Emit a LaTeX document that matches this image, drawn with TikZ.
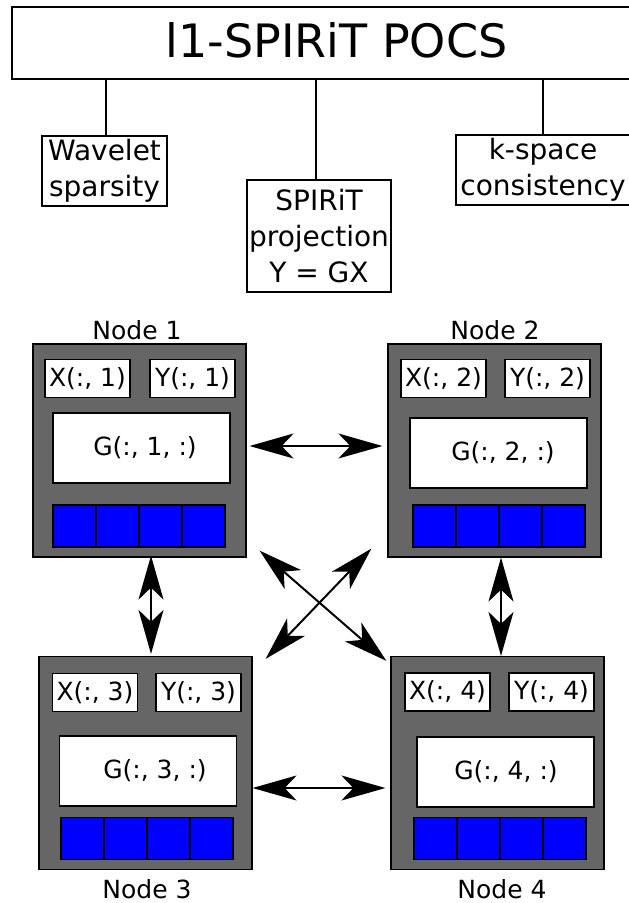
\documentclass[tikz,border=0pt]{standalone}
\usepackage{fontspec}
\setmainfont{DejaVu Sans}
\usetikzlibrary{arrows.meta}
\definecolor{boxgray}{HTML}{666666}
\definecolor{cellblue}{HTML}{0000FF}
\begin{document}
\begin{tikzpicture}[x=1pt,y=-1pt,
  txt/.style={font=\fontsize{28}{36}\selectfont, align=center},
  tbox/.style={draw=black, fill=white, line width=1.2pt, inner sep=0pt},
  comp/.style={draw=black, fill=boxgray, line width=1.2pt, minimum width=213pt, minimum height=213pt, inner sep=0pt},
  small/.style={font=\fontsize{25}{30}\selectfont},
  cell/.style={draw=black, fill=cellblue, line width=1.2pt, minimum width=43pt, minimum height=42pt, inner sep=0pt},
  link/.style={line width=1.6pt},
  dbl/.style={line width=2pt, {Stealth[length=44pt,width=25pt,inset=12pt]}-{Stealth[length=44pt,width=25pt,inset=12pt]}}
]
\useasboundingbox (0,0) rectangle (629,903);
\clip (0,0) rectangle (629,903);

% top tree
\node[tbox, minimum width=649pt, minimum height=72pt, font=\fontsize{46}{50}\selectfont, text height=35pt, text depth=7pt] (top) at (336.5,43) {l1-SPIRiT POCS};
\node[tbox, txt, minimum width=125pt, minimum height=70pt] (wav) at (104.5,171) {Wavelet\\sparsity};
\node[tbox, txt, minimum width=144pt, minimum height=112pt] (spir) at (319,236) {SPIRiT\\projection\\Y = GX};
\node[tbox, txt, minimum width=174pt, minimum height=70pt] (ksp) at (543,170) {k-space\\consistency};

\draw[link] ([xshift=1.5pt]wav.north) -- ([xshift=1.5pt]wav.north |- top.south);
\draw[link] ([xshift=-3pt]spir.north) -- ++(0,-101);
\draw[link] (ksp.north) -- (ksp.north |- top.south);

% compute nodes
\foreach \i/\cx/\cy/\xx/\xy/\yx/\gx/\gy/\go/\bx/\by/\lx/\ly in {
1/139.5/450.5/87.5/378.5/192.5/141.5/448/3.5/53/526/137/339,
2/494.5/450.5/443.5/378.5/547.5/498.5/453/4.5/413/526/495/339,
3/145.5/763/95/692.5/198.5/148/771/7/61/838.5/147/898,
4/497.5/763/447.5/692/551.5/505.5/772/0.5/414/838.5/502/898}
{
  \node[comp] (n\i) at (\cx,\cy) {};
  \node[tbox, small, minimum width=85pt, minimum height=38pt] (x\i) at (\xx,\xy) {X(:, \i)};
  \node[tbox, small, minimum width=85pt, minimum height=38pt] (y\i) at (\yx,\xy) {Y(:, \i)};
  \node[tbox, minimum width=177pt, minimum height=70pt] (g\i) at (\gx,\gy) {};
  \node[small, inner sep=0pt] (gt\i) at ([xshift=\go pt]g\i.center) {G(:, \i, :)};
  \foreach \k in {0,1,2,3}
    \node[cell] (c\i\k) at ({\bx+21.5+43*\k},\by) {};
  \node[small, inner sep=0pt, anchor=base] (lab\i) at (\lx,\ly) {Node \i};
}

% links between nodes
\draw[dbl] ([shift={(3,-4.5)}]n1.east) -- ([shift={(-5,-4.5)}]n2.west);
\draw[dbl] ([shift={(0,25)}]n3.east) -- ([shift={(-5,25)}]n4.west);
\draw[dbl] ([shift={(11.5,-2)}]n1.south) -- ([shift={(5.5,-2)}]n3.north);
\draw[dbl] ([shift={(6.5,0)}]n2.south) -- ([shift={(3.5,0)}]n4.north);
\draw[dbl] ([shift={(13,-7)}]n1.south east) -- ([shift={(-4,5)}]n4.north west);
\draw[dbl] ([shift={(-16,-9)}]n2.south west) -- ([shift={(13,3)}]n3.north east);
\end{tikzpicture}
\end{document}
